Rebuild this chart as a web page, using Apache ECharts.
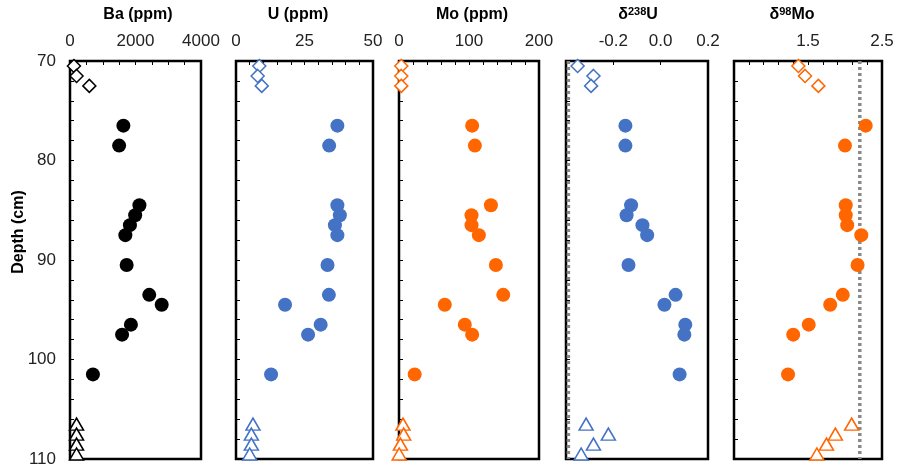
<!DOCTYPE html>
<html>
<head>
<meta charset="utf-8">
<script src="https://cdn.jsdelivr.net/npm/echarts@6/dist/echarts.min.js"></script>
<style>
html,body{margin:0;padding:0;background:#fff;}
#chart{width:897px;height:471px;}
</style>
</head>
<body>
<div id="chart"></div>
<script>
// Depths (cm)
const diamondDepth = [70.5, 71.5, 72.5];
const circleDepth = [76.5, 78.5, 84.5, 85.5, 86.5, 87.5, 90.5, 93.5, 94.5, 96.5, 97.5, 101.5];
const triangleDepth = [106.5, 107.5, 108.5, 109.5];

// Ba (ppm)
const baDiamond = [120, 200, 590];
const baCircle = [1630, 1500, 2120, 1990, 1830, 1690, 1730, 2420, 2800, 1860, 1590, 700];
const baTriangle = [200, 200, 200, 200];

// U (ppm)
const uDiamond = [8.5, 7.9, 9.4];
const uCircle = [37.0, 34.0, 37.0, 37.9, 36.1, 37.0, 33.4, 33.9, 17.9, 30.9, 26.3, 12.8];
const uTriangle = [6.2, 5.6, 5.6, 5.0];

// Mo (ppm)
const moDiamond = [3.3, 3.3, 3.3];
const moCircle = [104.5, 108.4, 131.3, 103.6, 103.6, 114.1, 138.4, 148.9, 65.4, 94.0, 104.5, 22.4];
const moTriangle = [5.7, 6.7, 2.0, 0.3];

// d238U
const d238Diamond = [-0.351, -0.284, -0.294];
const d238Circle = [-0.149, -0.149, -0.125, -0.144, -0.077, -0.057, -0.136, 0.063, 0.016, 0.104, 0.100, 0.080];
const d238Triangle = [-0.315, -0.221, -0.284, -0.336];
const d238Seawater = -0.39;

// d98Mo
const d98Diamond = [1.37, 1.46, 1.64];
const d98Circle = [2.28, 2.00, 2.01, 2.01, 2.03, 2.22, 2.17, 1.97, 1.80, 1.51, 1.30, 1.23];
const d98Triangle = [2.09, 1.87, 1.75, 1.62];
const d98Seawater = 2.2;

const depthRange = [70, 110];
const depthLabels = [70, 80, 90, 100, 110];

const panels = [
  {min: 0, max: 4000, interval: 500, labels: [0, 2000, 4000], color: '#000000', d: baDiamond, c: baCircle, t: baTriangle, dec: 0},
  {min: 0, max: 50, interval: 5, labels: [0, 25, 50], color: '#4472C4', d: uDiamond, c: uCircle, t: uTriangle, dec: 0},
  {min: 0, max: 200, interval: 20, labels: [0, 100, 200], color: '#FF6600', d: moDiamond, c: moCircle, t: moTriangle, dec: 0},
  {min: -0.4, max: 0.2, interval: 0.2, labels: [-0.2, 0.0, 0.2], color: '#4472C4', d: d238Diamond, c: d238Circle, t: d238Triangle, dec: 1, sw: d238Seawater},
  {min: 0.5, max: 2.5, interval: 0.2, labels: [1.5, 2.5], color: '#FF6600', d: d98Diamond, c: d98Circle, t: d98Triangle, dec: 1, sw: d98Seawater}
];

const gridPos = [
  {left: 70, width: 131},
  {left: 236, width: 137},
  {left: 399, width: 140},
  {left: 566, width: 142},
  {left: 734, width: 148}
];

const FONT = '"Liberation Sans", Arial, sans-serif';

const grids = [], xAxes = [], yAxes = [], series = [];
panels.forEach((p, i) => {
  grids.push({left: gridPos[i].left, width: gridPos[i].width, top: 61, height: 398,
    show: true, borderColor: '#000', borderWidth: 2.5, backgroundColor: 'transparent'});
  xAxes.push({
    type: 'value', gridIndex: i, position: 'top', min: p.min, max: p.max, interval: p.interval,
    axisLine: {show: false, onZero: false},
    axisTick: {show: true, inside: true, length: 4, lineStyle: {color: '#000', width: 1}},
    splitLine: {show: false},
    axisLabel: {
      show: true, margin: 11, fontSize: 17, color: '#222', fontFamily: FONT,
      showMinLabel: true, showMaxLabel: true,
      formatter: v => {
        for (const l of p.labels) { if (Math.abs(v - l) < 1e-6) return l.toFixed(p.dec); }
        return '';
      }
    }
  });
  yAxes.push({
    type: 'value', gridIndex: i, inverse: true, min: depthRange[0], max: depthRange[1], interval: 2,
    axisLine: {show: false, onZero: false},
    axisTick: {show: true, inside: true, length: 4, lineStyle: {color: '#000', width: 1}},
    splitLine: {show: false},
    axisLabel: {
      show: i === 0, margin: 14, fontSize: 17, color: '#222', fontFamily: FONT,
      formatter: v => depthLabels.includes(v) ? String(v) : ''
    }
  });
  if (p.sw !== undefined) {
    series.push({
      type: 'line', xAxisIndex: i, yAxisIndex: i, symbol: 'none', silent: true, z: 1,
      data: [[p.sw, depthRange[0]], [p.sw, depthRange[1]]],
      lineStyle: {color: '#888888', width: 3.5, type: [3, 3]}
    });
  }
  series.push({
    type: 'scatter', xAxisIndex: i, yAxisIndex: i, symbol: 'diamond', symbolSize: [13, 13], clip: false, z: 3,
    data: p.d.map((v, k) => [v, diamondDepth[k]]),
    itemStyle: {color: '#fff', borderColor: p.color, borderWidth: 1.5, opacity: 1}
  });
  series.push({
    type: 'scatter', xAxisIndex: i, yAxisIndex: i, symbol: 'circle', symbolSize: 14, clip: false, z: 3,
    data: p.c.map((v, k) => [v, circleDepth[k]]),
    itemStyle: {color: p.color, opacity: 1}
  });
  series.push({
    type: 'scatter', xAxisIndex: i, yAxisIndex: i, symbol: 'triangle', symbolSize: [14, 12], clip: false, z: 3,
    data: p.t.map((v, k) => [v, triangleDepth[k]]),
    itemStyle: {color: '#fff', borderColor: p.color, borderWidth: 1.5, opacity: 1}
  });
});

function titleText(x, text) {
  return {
    type: 'text', x: x, y: 15,
    style: {
      text: text, textAlign: 'center', textVerticalAlign: 'middle',
      font: 'bold 16px ' + FONT, fill: '#000',
      rich: {
        s: {fontSize: 11, fontWeight: 'bold', fontFamily: FONT, verticalAlign: 'top', padding: [0, 0, 7, 0], fill: '#000'},
        n: {fontSize: 16, fontWeight: 'bold', fontFamily: FONT, fill: '#000'}
      }
    }
  };
}

const option = {
  animation: false,
  backgroundColor: '#fff',
  grid: grids,
  xAxis: xAxes,
  yAxis: yAxes,
  series: series,
  graphic: [
    titleText(138, '{n|Ba (ppm)}'),
    titleText(298, '{n|U (ppm)}'),
    titleText(472, '{n|Mo (ppm)}'),
    titleText(638, '{n|δ}{s|238}{n|U}'),
    titleText(792, '{n|δ}{s|98}{n|Mo}'),
    {
      type: 'text', x: 19, y: 232, rotation: Math.PI / 2,
      style: {text: 'Depth (cm)', textAlign: 'center', textVerticalAlign: 'middle',
        font: 'bold 16px ' + FONT, fill: '#000'}
    }
  ]
};

const chart = echarts.init(document.getElementById('chart'), null, {renderer: 'canvas'});
chart.setOption(option);
</script>
</body>
</html>
